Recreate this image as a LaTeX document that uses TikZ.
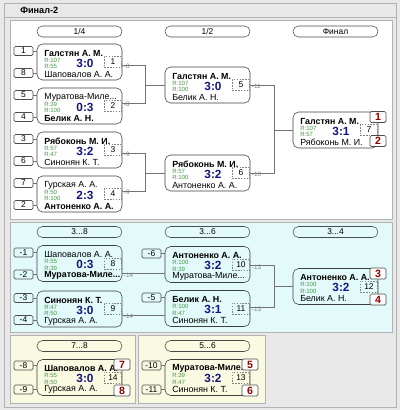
\documentclass[tikz,border=0pt]{standalone}
\usepackage{fontspec}
\setmainfont{Liberation Sans}
\definecolor{pagebg}{RGB}{232,232,232}
\definecolor{cyanbg}{RGB}{226,250,250}
\definecolor{beigebg}{RGB}{250,250,226}
\definecolor{ratinggreen}{RGB}{70,150,70}
\definecolor{scoreblue}{RGB}{20,20,130}
\definecolor{placered}{RGB}{150,0,0}

% одна встреча: имя, x, y, игрок 1, R1, счёт, R2, игрок 2, номер
\newcommand{\matchbox}[9]{%
  \node[match] (#1) at (#2,#3) {};
  \node[player] (#1top) at (#2-35.5,#3-9) {#4};
  \node[rating] (#1ra) at (#2-35.5,#3-2) {R:#5};
  \node[result] (#1res) at (#2+5.5,#3+1) {#6};
  \node[rating] (#1rb) at (#2-35.5,#3+4.5) {R:#7};
  \node[player] (#1bot) at (#2-35.5,#3+12) {#8};
  \node[gamenum] (#1num) at (#2+33.5,#3) {#9};
}

\begin{document}
\begin{tikzpicture}[x=0.025cm, y=-0.025cm,
    panel/.style={draw=gray!60, line width=0.6pt},
    stage/.style={draw=black!70, rounded corners=3.9pt, minimum width=2.125cm, minimum height=0.275cm, inner sep=0, font=\fontsize{6}{7}\selectfont},
    match/.style={draw=black!75, rounded corners=4pt, minimum width=2.125cm, minimum height=0.9cm, inner sep=0},
    player/.style={anchor=west, inner sep=0, font=\fontsize{6.3}{7}\selectfont},
    rating/.style={anchor=west, inner sep=0, text=ratinggreen, font=\fontsize{4.3}{5}\selectfont},
    result/.style={inner sep=0, text=scoreblue, font=\fontsize{8.4}{9}\selectfont\bfseries},
    gamenum/.style={draw=gray, dash pattern=on 1pt off 1pt, minimum width=0.425cm, minimum height=0.275cm, inner sep=0, font=\fontsize{6}{7}\selectfont},
    seed/.style={draw=black!70, rounded corners=1pt, minimum width=0.475cm, minimum height=0.225cm, inner sep=0, font=\fontsize{6}{7}\selectfont},
    placebox/.style={draw=black!70, fill=white, rounded corners=1pt, minimum width=0.4cm, minimum height=0.275cm, inner sep=0, text=placered, font=\fontsize{7.5}{8}\selectfont\bfseries},
    link/.style={draw=black!55, line width=0.4pt},
    loser/.style={anchor=west, inner sep=1pt, yshift=-1.2pt, text=gray, font=\fontsize{4.5}{5}\selectfont}]

    % фон и панели
    \fill[pagebg] (0,0) rectangle (400,410);
    \useasboundingbox (0,0) rectangle (400,410);
    \draw[panel] (4,3) rectangle (396,407);
    \draw[panel] (4,17) -- (396,17);
    \node[anchor=west, inner sep=0, font=\fontsize{6.5}{7}\selectfont\bfseries] (title) at (20,10) {Финал-2};
    \draw[panel, fill=white] (10,20) rectangle (392,219);
    \draw[panel, fill=cyanbg] (10,222) rectangle (392,332);
    \draw[panel, fill=beigebg] (10,335) rectangle (135,403);
    \draw[panel, fill=beigebg] (138,335) rectangle (265,403);

    % стадии
    \node[stage] (h1) at (79.5,31.5) {1/4};
    \node[stage] (h2) at (207.5,31.5) {1/2};
    \node[stage] (h3) at (335.5,31.5) {Финал};
    \node[stage] (h4) at (79.5,232) {3...8};
    \node[stage] (h5) at (207.5,232) {3...6};
    \node[stage] (h6) at (335.5,232) {3...4};
    \node[stage] (h7) at (79.5,346) {7...8};
    \node[stage] (h8) at (207.5,346) {5...6};

    % встречи
    \matchbox{m1}{79.5}{62}{\textbf{Галстян А. М.}}{107}{3:0}{55}{Шаповалов А. А.}{1}
    \matchbox{m2}{79.5}{106}{Муратова-Миле...}{39}{0:3}{100}{\textbf{Белик А. Н.}}{2}
    \matchbox{m3}{79.5}{150}{\textbf{Рябоконь М. И.}}{57}{3:2}{47}{Синонян К. Т.}{3}
    \matchbox{m4}{79.5}{194}{Гурская А. А.}{50}{2:3}{100}{\textbf{Антоненко А. А.}}{4}
    \matchbox{m5}{207.5}{85}{\textbf{Галстян А. М.}}{107}{3:0}{100}{Белик А. Н.}{5}
    \matchbox{m6}{207.5}{173}{\textbf{Рябоконь М. И.}}{57}{3:2}{100}{Антоненко А. А.}{6}
    \matchbox{m7}{335.5}{130}{\textbf{Галстян А. М.}}{107}{3:1}{57}{Рябоконь М. И.}{7}
    \matchbox{m8}{79.5}{263.5}{Шаповалов А. А.}{55}{0:3}{39}{\textbf{Муратова-Миле...}}{8}
    \matchbox{m9}{79.5}{309}{\textbf{Синонян К. Т.}}{47}{3:0}{50}{Гурская А. А.}{9}
    \matchbox{m10}{207.5}{264.5}{\textbf{Антоненко А. А.}}{100}{3:2}{39}{Муратова-Миле...}{10}
    \matchbox{m11}{207.5}{308.5}{\textbf{Белик А. Н.}}{100}{3:1}{47}{Синонян К. Т.}{11}
    \matchbox{m12}{335.5}{286.5}{\textbf{Антоненко А. А.}}{100}{3:2}{100}{Белик А. Н.}{12}
    \matchbox{m14}{79.5}{377.5}{\textbf{Шаповалов А. А.}}{55}{3:0}{50}{Гурская А. А.}{14}
    \matchbox{m13}{207.5}{377.5}{\textbf{Муратова-Миле...}}{39}{3:2}{47}{Синонян К. Т.}{13}

    % посев
    \node[seed] (p1) at (23.5,51) {1}; \draw[link] (p1) -- (p1 -| m1.west);
    \node[seed] (p8) at (23.5,73) {8}; \draw[link] (p8) -- (p8 -| m1.west);
    \node[seed] (p5) at (23.5,95) {5}; \draw[link] (p5) -- (p5 -| m2.west);
    \node[seed] (p4) at (23.5,117) {4}; \draw[link] (p4) -- (p4 -| m2.west);
    \node[seed] (p3) at (23.5,139) {3}; \draw[link] (p3) -- (p3 -| m3.west);
    \node[seed] (p6) at (23.5,161) {6}; \draw[link] (p6) -- (p6 -| m3.west);
    \node[seed] (p7) at (23.5,183) {7}; \draw[link] (p7) -- (p7 -| m4.west);
    \node[seed] (p2) at (23.5,205) {2}; \draw[link] (p2) -- (p2 -| m4.west);
    \node[seed] (q1) at (23.5,252.5) {-1}; \draw[link] (q1) -- (q1 -| m8.west);
    \node[seed] (q2) at (23.5,274.5) {-2}; \draw[link] (q2) -- (q2 -| m8.west);
    \node[seed] (q3) at (23.5,298) {-3}; \draw[link] (q3) -- (q3 -| m9.west);
    \node[seed] (q4) at (23.5,320) {-4}; \draw[link] (q4) -- (q4 -| m9.west);
    \node[seed] (q6) at (151.5,253.5) {-6}; \draw[link] (q6) -- (q6 -| m10.west);
    \node[seed] (q5) at (151.5,297.5) {-5}; \draw[link] (q5) -- (q5 -| m11.west);
    \node[seed] (q8) at (23.5,365.5) {-8}; \draw[link] (q8) -- (q8 -| m14.west);
    \node[seed] (q9) at (23.5,389.5) {-9}; \draw[link] (q9) -- (q9 -| m14.west);
    \node[seed] (q10) at (151.5,365.5) {-10}; \draw[link] (q10) -- (q10 -| m13.west);
    \node[seed] (q11) at (151.5,389.5) {-11}; \draw[link] (q11) -- (q11 -| m13.west);

    % переходы
    \draw[link] (m1.east) ++(0,3) node[loser] (l1) {-8} -- ++(23,0) |- (m5.west);
    \draw[link] (m2.east) ++(0,-3) node[loser] (l2) {-8} -- ++(23,0) |- (m5.west);
    \draw[link] (m3.east) ++(0,3) node[loser] (l3) {-9} -- ++(23,0) |- (m6.west);
    \draw[link] (m4.east) ++(0,-3) node[loser] (l4) {-9} -- ++(23,0) |- (m6.west);
    \draw[link] (m5.east) node[loser] (l5) {-11} -- ++(24,0) |- (m7.west);
    \draw[link] (m6.east) node[loser] (l6) {-10} -- ++(24,0) |- (m7.west);
    \draw[link] (m8.east) ++(0,10) coordinate (c8) node[loser] (l8) {-14} -- (c8 -| m10.west);
    \draw[link] (m9.east) ++(0,6) coordinate (c9) node[loser] (l9) {-14} -- (c9 -| m11.west);
    \draw[link] (m10.east) ++(0,1) node[loser] (l10) {-13} -- ++(24,0) |- (m12.west);
    \draw[link] (m11.east) ++(0,-1) node[loser] (l11) {-13} -- ++(24,0) |- (m12.west);

    % места
    \node[placebox] (r1) at (378,117) {1};
    \node[placebox] (r2) at (378,141) {2};
    \node[placebox] (r3) at (378,273.5) {3};
    \node[placebox] (r4) at (378,299.5) {4};
    \node[placebox] (r7) at (122,364.5) {7};
    \node[placebox] (r8) at (122,390.5) {8};
    \node[placebox] (r5) at (250,364.5) {5};
    \node[placebox] (r6) at (250,390.5) {6};
\end{tikzpicture}
\end{document}
